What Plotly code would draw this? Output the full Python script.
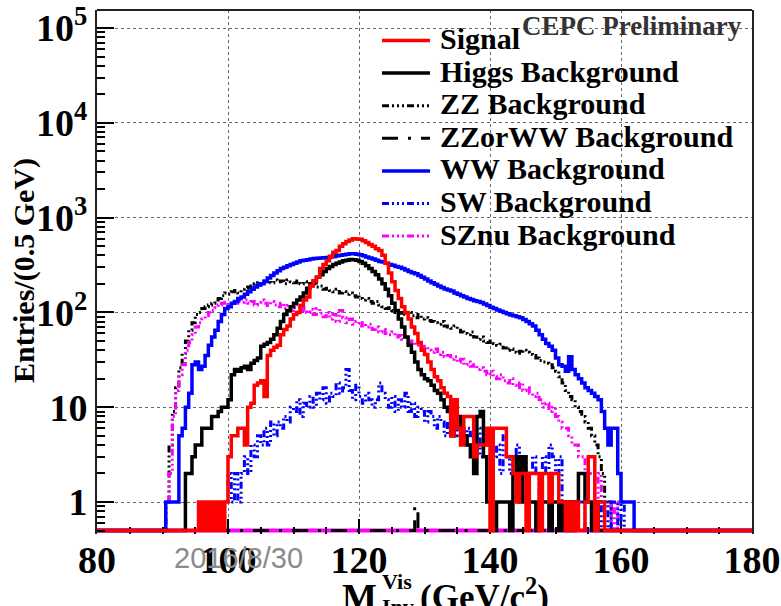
import numpy as np
import plotly.graph_objects as go

# ---------------------------------------------------------------
# Visible invariant mass spectra, entries per 0.5 GeV bin.
# Each sample: low edge of its first filled bin + bin contents.
# ---------------------------------------------------------------
BIN_WIDTH = 0.5
X_MIN, X_MAX = 80.0, 180.0
Y_FLOOR = 0.5          # empty bins sit on the lower frame (ROOT log style)
Y_LOW, Y_HIGH = 10 ** -0.3376, 10 ** 5.19

signal_start = 95.5
signal = [1, 0, 1, 0, 1, 0, 1, 0, 1,
          3, 5, 5, 6, 6, 4, 10, 11, 17, 18,
          19, 13, 35, 40, 43, 45, 58, 66, 72, 85,
          95, 100, 118, 135, 145, 190, 215, 235, 290, 320,
          350, 390, 430, 450, 500, 530, 560, 580, 600, 595,
          590, 570, 545, 520, 500, 470, 450, 400, 330, 260,
          210, 170, 140, 115, 100, 85, 70, 60, 48, 40,
          36, 30, 25, 21, 19, 16, 14, 13, 5, 12,
          6, 4, 8, 8, 8, 3, 4, 4, 4, 6,
          0, 6, 6, 6, 6, 3, 3, 2, 1, 2,
          2, 0, 2, 2, 2, 0, 2, 2, 1, 2,
          2, 1, 1, 0, 1, 0, 1, 0, 0, 1,
          3, 3, 0, 1, 1]

higgs_start = 93.0
higgs = [0, 2, 2, 3, 4, 4, 6, 6, 6, 8,
         8, 9, 10, 10, 12, 22, 25, 24, 26, 27,
         25, 29, 31, 33, 44, 46, 48, 52, 58, 68,
         80, 95, 105, 115, 125, 135, 145, 160, 180, 200,
         215, 235, 250, 270, 290, 305, 320, 330, 340, 350,
         355, 362, 360, 355, 345, 330, 310, 290, 270, 250,
         225, 200, 175, 150, 125, 105, 85, 70, 55, 45,
         38, 30, 25, 22, 20, 19, 17, 15, 14, 12,
         10, 9, 5, 7, 8, 6, 5, 4, 3, 2,
         8, 9, 3, 1, 1, 0, 1, 1, 1, 1,
         0, 2, 3, 1, 3, 2, 1, 1, 0, 1,
         1, 1, 0, 1, 1, 0, 1, 0, 1, 0,
         1, 2, 2, 1, 1, 0, 1]

zz_start = 90.5
zz = [1, 4, 9, 16, 26, 37, 50, 65, 78,
      95, 100, 110, 115, 120, 125, 135, 140, 150, 160,
      155, 165, 170, 160, 175, 180, 185, 190, 200, 205,
      195, 210, 215, 205, 220, 210, 215, 200, 220, 210,
      205, 215, 200, 210, 195, 190, 200, 185, 190, 175,
      180, 170, 165, 175, 160, 165, 155, 160, 150, 145,
      140, 135, 140, 130, 125, 130, 120, 115, 110, 112,
      105, 100, 105, 98, 95, 100, 92, 88, 95, 85,
      88, 82, 80, 78, 75, 80, 72, 70, 68, 72,
      65, 62, 60, 58, 62, 55, 52, 55, 50, 48,
      50, 47, 45, 46, 42, 40, 41, 38, 37, 39,
      40, 38, 36, 35, 33, 31, 30, 29, 28, 26,
      24, 21, 18, 15, 13, 12, 10, 9, 8, 7,
      6, 5, 4, 3, 2, 1, 1]

zzorww_start = 128.5
zzorww = [0.9]

ww_start = 90.5
ww = [1, 1, 1, 1, 5, 6, 10, 14, 28,
      30, 25, 27, 35, 45, 55, 65, 80, 95, 110,
      115, 125, 130, 140, 145, 155, 165, 175, 185, 195,
      200, 215, 230, 245, 260, 275, 290, 300, 310, 320,
      330, 340, 350, 355, 360, 365, 370, 372, 375, 378,
      380, 385, 388, 395, 400, 405, 410, 415, 415, 410,
      405, 395, 385, 375, 365, 355, 345, 340, 330, 320,
      315, 305, 300, 290, 280, 270, 262, 255, 245, 235,
      225, 215, 205, 198, 190, 183, 177, 172, 168, 160,
      155, 150, 145, 140, 137, 133, 130, 127, 123, 118,
      113, 110, 106, 103, 100, 97, 94, 92, 90, 88,
      84, 80, 76, 72, 65, 58, 52, 47, 44, 40,
      33, 28, 27, 24, 34, 25, 22, 20, 18, 16,
      15, 14, 13, 12, 9, 6, 4, 6, 6, 2,
      1, 1, 1, 1]

sw_start = 99.5
sw = [1,
      2, 1, 2, 1, 2, 3, 2, 4, 3, 5,
      4, 6, 4, 7, 5, 7, 6, 8, 7, 10,
      9, 12, 8, 11, 10, 13, 10, 14, 12, 16,
      11, 14, 13, 18, 14, 16, 25, 15, 12, 17,
      13, 11, 14, 12, 10, 12, 18, 14, 12, 10,
      13, 9, 12, 10, 14, 9, 11, 8, 10, 9,
      7, 9, 8, 6, 8, 7, 5, 7, 6, 5,
      7, 5, 4, 6, 5, 4, 6, 3, 5, 4,
      5, 3, 4, 2, 5, 3, 2, 3, 4, 2,
      3, 1, 2, 3, 2, 1, 3, 2, 4, 3,
      2, 3, 1, 1, 0, 1, 0, 1, 1, 0,
      0, 0, 1, 0, 1, 1, 0, 1, 1, 0,
      1]

sznu_start = 90.5
sznu = [1, 2, 8, 15, 22, 28, 40, 48, 58,
        70, 78, 85, 92, 100, 105, 112, 120, 125, 128,
        120, 130, 125, 132, 128, 135, 125, 130, 120, 128,
        135, 125, 118, 130, 120, 115, 125, 110, 118, 105,
        112, 120, 105, 110, 100, 108, 95, 110, 98, 90,
        100, 85, 95, 80, 105, 88, 78, 85, 75, 80,
        72, 78, 70, 75, 66, 70, 62, 66, 60, 58,
        62, 55, 57, 52, 55, 48, 50, 45, 47, 42,
        44, 40, 38, 41, 36, 38, 34, 35, 32, 34,
        30, 32, 28, 30, 27, 28, 25, 26, 24, 22,
        24, 21, 20, 22, 19, 18, 20, 17, 16, 18,
        15, 16, 14, 13, 14, 12, 10, 11, 9, 10,
        8, 7, 6, 6, 5, 4, 4, 3, 3, 2,
        2, 2, 1, 2, 1, 1, 1, 0, 1]

legend_labels = ["Signal", "Higgs Background", "ZZ Background",
                 "ZZorWW Background", "WW Background", "SW Background",
                 "SZnu Background"]

y_tick_vals = [1, 10, 100, 1000, 10000, 100000]
y_tick_text = ["1", "10", "10<sup>2</sup>", "10<sup>3</sup>",
               "10<sup>4</sup>", "10<sup>5</sup>"]
x_tick_vals = [80, 100, 120, 140, 160, 180]

# ---------------------------------------------------------------
edges = np.arange(X_MIN, X_MAX + BIN_WIDTH / 2, BIN_WIDTH)
n_bins = len(edges) - 1


def filled(start, values):
    h = np.zeros(n_bins)
    i0 = int(round((start - X_MIN) / BIN_WIDTH))
    h[i0:i0 + len(values)] = values
    return h


def step_points(h):
    y = np.where(h > 0, h, Y_FLOOR)
    return edges, np.append(y, y[-1])


RED, BLACK, BLUE, MAGENTA = "#ff0000", "#000000", "#0000ff", "#ff00ff"
DASH_DOTS = "7px,3px,2px,3px,2px,3px,2px,3px"
LONG_DASH_DOT = "16px,10px,3px,10px"

# label -> (start, values, colour, dash, width); drawn bottom -> top
samples = {
    "ZZorWW Background": (zzorww_start, zzorww, BLACK, LONG_DASH_DOT, 3),
    "ZZ Background": (zz_start, zz, BLACK, DASH_DOTS, 3),
    "SZnu Background": (sznu_start, sznu, MAGENTA, DASH_DOTS, 3),
    "SW Background": (sw_start, sw, BLUE, DASH_DOTS, 3),
    "WW Background": (ww_start, ww, BLUE, "solid", 3.5),
    "Higgs Background": (higgs_start, higgs, BLACK, "solid", 3.5),
    "Signal": (signal_start, signal, RED, "solid", 3.5),
}

fig = go.Figure()
for name, (start, vals, col, dash, w) in samples.items():
    xs, ys = step_points(filled(start, vals))
    fig.add_trace(go.Scatter(x=xs, y=ys, mode="lines", name=name,
                             line=dict(color=col, width=w, dash=dash, shape="hv"),
                             showlegend=False, hoverinfo="skip"))

SERIF = "Liberation Serif"
PL, PR, PT, PB = 97, 29, 10, 72
W, H = 781, 606
pw, ph = W - PL - PR, H - PT - PB


def px_x(px):
    return (px - PL) / pw


def px_y(py):
    return (H - PB - py) / ph


shapes = [
    # baseline along the empty-bin level
    dict(type="line", xref="x", yref="y", x0=X_MIN, x1=X_MAX, y0=Y_FLOOR, y1=Y_FLOOR,
         line=dict(color=MAGENTA, width=4), layer="below"),
    # top edge of the frame
    dict(type="line", xref="paper", yref="paper", x0=0, x1=1, y0=1, y1=1,
         line=dict(color="#222222", width=2)),
]

annotations = []
# legend entries inside the frame
row0, row_step = 40.5, 32.6
for i, name in enumerate(legend_labels):
    start, vals, col, dash, w = samples[name]
    yy = px_y(row0 + i * row_step)
    shapes.append(dict(type="line", xref="paper", yref="paper",
                       x0=px_x(382), x1=px_x(430), y0=yy, y1=yy,
                       line=dict(color=col, width=w, dash=dash)))
    annotations.append(dict(xref="paper", yref="paper", x=px_x(438), y=px_y(row0 + i * row_step - 2),
                            text=name, showarrow=False, xanchor="left", yanchor="middle",
                            font=dict(family=SERIF, size=30, color="black", weight="bold")))

annotations += [
    dict(xref="paper", yref="paper", x=px_x(744), y=px_y(26), text="CEPC Preliminary",
         showarrow=False, xanchor="right", yanchor="middle",
         font=dict(family=SERIF, size=27, color="#333333", weight="bold")),
    dict(xref="paper", yref="paper", x=px_x(24), y=px_y(271), text="Entries/(0.5 GeV)",
         textangle=-90, showarrow=False, xanchor="center", yanchor="middle",
         font=dict(family=SERIF, size=30, color="black", weight="bold")),
    dict(xref="paper", yref="paper", x=px_x(379), y=px_y(597), text="M",
         showarrow=False, xanchor="right", yanchor="middle",
         font=dict(family=SERIF, size=37, color="black", weight="bold")),
    dict(xref="paper", yref="paper", x=px_x(380), y=px_y(581), text="Vis",
         showarrow=False, xanchor="left", yanchor="middle",
         font=dict(family=SERIF, size=22, color="black", weight="bold")),
    dict(xref="paper", yref="paper", x=px_x(380), y=px_y(606), text="Inv",
         showarrow=False, xanchor="left", yanchor="middle",
         font=dict(family=SERIF, size=22, color="black", weight="bold")),
    dict(xref="paper", yref="paper", x=px_x(418), y=px_y(594), text="(GeV/c<sup>2</sup>)",
         showarrow=False, xanchor="left", yanchor="middle",
         font=dict(family=SERIF, size=35, color="black", weight="bold")),
    dict(xref="paper", yref="paper", x=px_x(238), y=px_y(558), text="2016/8/30",
         showarrow=False, xanchor="center", yanchor="middle",
         font=dict(family="Liberation Sans", size=29, color="#8a8a8a")),
]

tick_font = dict(family=SERIF, size=38, color="black", weight="bold")

fig.update_layout(
    width=W, height=H,
    margin=dict(l=PL, r=PR, t=PT, b=PB, autoexpand=False),
    paper_bgcolor="white", plot_bgcolor="white",
    showlegend=False,
    shapes=shapes, annotations=annotations,
    xaxis=dict(range=[X_MIN, X_MAX], tickmode="array", tickvals=x_tick_vals,
               automargin=False,
               ticks="inside", ticklen=15, tickwidth=2, tickcolor="black",
               showline=False, zeroline=False,
               showgrid=True, gridcolor="#666666", griddash="dot", gridwidth=1,
               minor=dict(dtick=5, tick0=80, ticks="inside", ticklen=7, tickwidth=2,
                          tickcolor="black", showgrid=False),
               tickfont=tick_font, layer="below traces"),
    yaxis=dict(type="log", range=[np.log10(Y_LOW), np.log10(Y_HIGH)],
               automargin=False,
               tickmode="array", tickvals=y_tick_vals, ticktext=y_tick_text,
               ticks="inside", ticklen=17, tickwidth=2, tickcolor="black",
               showline=True, linecolor="#222222", linewidth=2, mirror=True,
               zeroline=False,
               showgrid=True, gridcolor="#666666", griddash="dot", gridwidth=1,
               minor=dict(dtick="D1", ticks="inside", ticklen=8, tickwidth=2,
                          tickcolor="black", showgrid=False),
               tickfont=tick_font, ticklabelstandoff=0),
)

fig.write_html("out.html")
